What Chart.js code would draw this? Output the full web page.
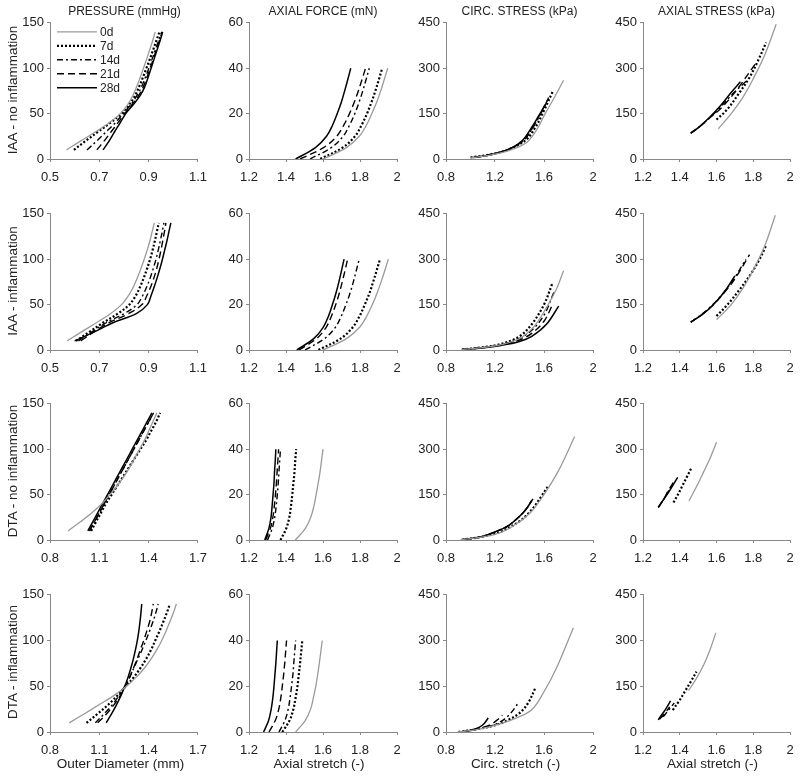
<!DOCTYPE html>
<html>
<head>
<meta charset="utf-8">
<script src="https://cdn.jsdelivr.net/npm/chart.js@4.4.0/dist/chart.umd.min.js"></script>
<style>
  body { margin: 0; width: 800px; height: 776px; background: #fff; position: relative; overflow: hidden;
         font-family: "Liberation Sans", Arial, sans-serif; color: #222; }
  canvas { position: absolute; }
  .lbl { position: absolute; white-space: nowrap; transform: translate(-50%, -50%); }
  .row { transform: translate(-50%, -50%) rotate(-90deg); font-size: 13.5px; }
  .col { font-size: 12px; }
  .xt { font-size: 13.5px; }
</style>
</head>
<body>
<script>
// series labels
const days = ['0d', '7d', '14d', '21d', '28d'];

// pressure levels (mmHg) shared by the diameter curves
const pressureLevels = [10, 20, 30, 40, 50, 60, 70, 80, 90, 100, 110, 120, 130, 140];
// axial force levels (mN) shared by the axial stretch curves
const forceLevels = [0, 5, 10, 15, 20, 25, 30, 35, 40];

// ---- IAA - no inflammation ----
const iaaNoDiameter = [
  [0.567, 0.625, 0.685, 0.740, 0.785, 0.815, 0.836, 0.852, 0.866, 0.879, 0.892, 0.904, 0.916, 0.927],
  [0.597, 0.645, 0.695, 0.745, 0.790, 0.822, 0.845, 0.862, 0.877, 0.891, 0.905, 0.918, 0.931, 0.944],
  [0.650, 0.690, 0.728, 0.765, 0.797, 0.828, 0.853, 0.872, 0.887, 0.901, 0.914, 0.927, 0.940, 0.953],
  [0.690, 0.720, 0.748, 0.776, 0.803, 0.833, 0.860, 0.879, 0.893, 0.906, 0.919, 0.931, 0.943, 0.955],
  [0.715, 0.740, 0.762, 0.785, 0.807, 0.838, 0.866, 0.885, 0.898, 0.910, 0.922, 0.934, 0.946, 0.957]
];
const iaaNoAxialStretch = [
  [1.600, 1.726, 1.796, 1.835, 1.864, 1.890, 1.912, 1.931, 1.950],
  [1.585, 1.706, 1.773, 1.809, 1.838, 1.862, 1.883, 1.902, 1.920],
  [1.530, 1.645, 1.709, 1.744, 1.772, 1.795, 1.815, 1.833, 1.850],
  [1.476, 1.603, 1.674, 1.713, 1.743, 1.769, 1.791, 1.811, 1.830],
  [1.452, 1.559, 1.619, 1.652, 1.677, 1.699, 1.717, 1.734, 1.750]
];
const iaaNoCircStretch = [
  [1.00, 1.15, 1.30, 1.45, 1.53, 1.61, 1.68, 1.76],
  [1.00, 1.15, 1.30, 1.45, 1.53, 1.60, 1.67],
  [1.02, 1.15, 1.30, 1.43, 1.51, 1.58, 1.64],
  [1.03, 1.15, 1.30, 1.43, 1.51, 1.57, 1.63],
  [1.05, 1.15, 1.30, 1.42, 1.50, 1.56, 1.62]
];
const iaaNoCircStress = [
  [4, 12, 26, 52, 90, 150, 200, 260],
  [5, 14, 30, 62, 105, 160, 222],
  [5, 14, 30, 60, 105, 155, 205],
  [5, 13, 30, 60, 105, 150, 195],
  [6, 13, 30, 60, 105, 145, 185]
];
const iaaNoAxStretch = [
  [1.61, 1.68, 1.74, 1.80, 1.86, 1.925],
  [1.60, 1.66, 1.72, 1.78, 1.83, 1.87],
  [1.46, 1.51, 1.56, 1.62, 1.68, 1.77],
  [1.46, 1.51, 1.56, 1.62, 1.70, 1.82],
  [1.46, 1.51, 1.56, 1.62, 1.68, 1.73]
];
const iaaNoAxStress = [
  [100, 150, 200, 265, 340, 445],
  [130, 165, 215, 270, 330, 385],
  [85, 108, 135, 170, 210, 262],
  [85, 108, 134, 165, 220, 322],
  [85, 108, 136, 175, 220, 255]
];

// ---- IAA - inflammation ----
const iaaInfDiameter = [
  [0.570, 0.628, 0.688, 0.745, 0.790, 0.818, 0.839, 0.855, 0.869, 0.882, 0.894, 0.905, 0.914, 0.923],
  [0.605, 0.660, 0.715, 0.775, 0.822, 0.848, 0.866, 0.881, 0.894, 0.906, 0.916, 0.925, 0.933, 0.941],
  [0.615, 0.670, 0.728, 0.800, 0.853, 0.876, 0.893, 0.907, 0.919, 0.930, 0.939, 0.947, 0.955, 0.962],
  [0.625, 0.678, 0.738, 0.818, 0.873, 0.893, 0.909, 0.922, 0.933, 0.942, 0.950, 0.957, 0.964, 0.970],
  [0.600, 0.680, 0.755, 0.850, 0.895, 0.910, 0.923, 0.935, 0.946, 0.956, 0.965, 0.974, 0.982, 0.990]
];
const iaaInfAxialStretch = [
  [1.600, 1.727, 1.798, 1.837, 1.867, 1.892, 1.914, 1.934, 1.953],
  [1.575, 1.695, 1.761, 1.798, 1.826, 1.851, 1.871, 1.890, 1.908],
  [1.503, 1.608, 1.667, 1.699, 1.724, 1.746, 1.764, 1.780, 1.796],
  [1.470, 1.565, 1.617, 1.646, 1.669, 1.688, 1.704, 1.719, 1.733],
  [1.458, 1.550, 1.601, 1.630, 1.651, 1.670, 1.686, 1.700, 1.714]
];
const iaaInfCircStretch = [
  [0.93, 1.10, 1.25, 1.40, 1.52, 1.62, 1.70, 1.76],
  [0.93, 1.10, 1.25, 1.40, 1.50, 1.60, 1.67],
  [0.93, 1.10, 1.25, 1.40, 1.50, 1.60, 1.68],
  [0.93, 1.10, 1.25, 1.40, 1.50, 1.60, 1.67],
  [0.93, 1.10, 1.25, 1.40, 1.50, 1.62, 1.72]
];
const iaaInfCircStress = [
  [2, 8, 18, 38, 78, 140, 200, 262],
  [2, 9, 20, 45, 85, 150, 222],
  [2, 8, 18, 38, 65, 115, 190],
  [2, 8, 17, 33, 55, 95, 150],
  [2, 7, 15, 28, 45, 85, 145]
];
const iaaInfAxStretch = [
  [1.60, 1.68, 1.74, 1.80, 1.86, 1.92],
  [1.60, 1.66, 1.72, 1.78, 1.83, 1.87],
  [1.46, 1.52, 1.58, 1.64, 1.70, 1.76],
  [1.46, 1.52, 1.58, 1.64, 1.70, 1.78],
  [1.46, 1.52, 1.58, 1.64, 1.70]
];
const iaaInfAxStress = [
  [100, 150, 200, 265, 340, 445],
  [112, 150, 195, 245, 295, 345],
  [92, 118, 150, 190, 240, 300],
  [92, 117, 148, 188, 235, 315],
  [92, 116, 148, 190, 245]
];

// ---- DTA - no inflammation ----
const dtaNoDiameter = [
  [0.910, 0.985, 1.055, 1.115, 1.165, 1.210, 1.250, 1.285, 1.315, 1.345, 1.375, 1.400, 1.425, 1.450],
  [1.050, 1.080, 1.110, 1.140, 1.175, 1.210, 1.245, 1.280, 1.315, 1.350, 1.385, 1.415, 1.445, 1.470],
  [1.040, 1.070, 1.100, 1.130, 1.160, 1.190, 1.220, 1.250, 1.280, 1.310, 1.340, 1.370, 1.400, 1.430],
  [1.040, 1.070, 1.100, 1.130, 1.160, 1.190, 1.220, 1.250, 1.280, 1.310, 1.340, 1.370, 1.400, 1.430],
  [1.030, 1.060, 1.090, 1.120, 1.150, 1.180, 1.210, 1.240, 1.270, 1.300, 1.330, 1.360, 1.390, 1.420]
];
const dtaNoAxialStretch = [
  [1.450, 1.504, 1.534, 1.551, 1.563, 1.574, 1.584, 1.592, 1.600],
  [1.370, 1.401, 1.418, 1.427, 1.434, 1.440, 1.446, 1.450, 1.455],
  [1.300, 1.325, 1.339, 1.347, 1.353, 1.358, 1.362, 1.366, 1.370],
  [1.290, 1.315, 1.329, 1.337, 1.343, 1.348, 1.352, 1.356, 1.360],
  [1.285, 1.307, 1.319, 1.325, 1.330, 1.335, 1.338, 1.342, 1.345]
];
const dtaNoCircStretch = [
  [0.92, 1.10, 1.25, 1.40, 1.50, 1.60, 1.72, 1.85],
  [0.93, 1.10, 1.25, 1.40, 1.50, 1.58, 1.63],
  [0.94, 1.10, 1.20, 1.30, 1.40, 1.46, 1.50],
  [0.94, 1.10, 1.20, 1.30, 1.40, 1.46, 1.50],
  [0.94, 1.10, 1.20, 1.30, 1.40, 1.46, 1.51]
];
const dtaNoCircStress = [
  [1, 10, 25, 60, 95, 150, 230, 342],
  [1, 11, 28, 62, 100, 145, 176],
  [1, 12, 27, 45, 78, 105, 132],
  [1, 12, 27, 45, 78, 105, 132],
  [1, 12, 27, 45, 78, 105, 136]
];
const dtaNoAxStretch = [
  [1.45, 1.49, 1.53, 1.565, 1.60],
  [1.366, 1.39, 1.415, 1.44, 1.461],
  [1.283, 1.31, 1.335, 1.36],
  [1.283, 1.31, 1.335, 1.37],
  [1.283, 1.31, 1.34, 1.365, 1.389]
];
const dtaNoAxStress = [
  [129, 175, 225, 270, 323],
  [124, 150, 180, 210, 235],
  [108, 132, 158, 185],
  [108, 132, 160, 195],
  [108, 132, 158, 183, 207]
];

// ---- DTA - inflammation ----
const dtaInfDiameter = [
  [0.917, 1.010, 1.100, 1.190, 1.265, 1.325, 1.375, 1.415, 1.450, 1.480, 1.505, 1.528, 1.550, 1.569],
  [1.022, 1.090, 1.155, 1.210, 1.260, 1.310, 1.350, 1.385, 1.415, 1.440, 1.465, 1.488, 1.510, 1.529],
  [1.076, 1.130, 1.180, 1.220, 1.255, 1.285, 1.310, 1.335, 1.360, 1.383, 1.405, 1.425, 1.443, 1.458],
  [1.090, 1.145, 1.190, 1.228, 1.260, 1.285, 1.308, 1.330, 1.350, 1.370, 1.388, 1.405, 1.418, 1.428],
  [1.142, 1.175, 1.205, 1.232, 1.255, 1.275, 1.292, 1.307, 1.320, 1.331, 1.340, 1.347, 1.353, 1.358]
];
const dtaInfAxialStretch = [
  [1.452, 1.504, 1.533, 1.548, 1.561, 1.571, 1.580, 1.588, 1.596],
  [1.380, 1.419, 1.440, 1.452, 1.462, 1.469, 1.476, 1.482, 1.488],
  [1.362, 1.394, 1.412, 1.422, 1.430, 1.437, 1.442, 1.447, 1.452],
  [1.308, 1.342, 1.361, 1.372, 1.380, 1.387, 1.393, 1.398, 1.403],
  [1.279, 1.306, 1.320, 1.329, 1.335, 1.340, 1.345, 1.349, 1.353]
];
const dtaInfCircStretch = [
  [0.894, 1.05, 1.20, 1.35, 1.50, 1.60, 1.70, 1.84],
  [0.90, 1.05, 1.20, 1.30, 1.40, 1.47, 1.53],
  [0.91, 1.05, 1.15, 1.25, 1.32, 1.39],
  [0.93, 1.03, 1.10, 1.17, 1.22, 1.26],
  [0.95, 1.02, 1.07, 1.11, 1.145]
];
const dtaInfCircStress = [
  [0, 8, 22, 42, 73, 132, 208, 342],
  [0, 9, 22, 38, 62, 95, 145],
  [0, 9, 18, 35, 58, 95],
  [0, 8, 15, 26, 40, 55],
  [0, 8, 15, 27, 46]
];
const dtaInfAxStretch = [
  [1.448, 1.49, 1.53, 1.565, 1.596],
  [1.362, 1.40, 1.43, 1.46, 1.491],
  [1.31, 1.33, 1.35, 1.37],
  [1.29, 1.31, 1.33, 1.345],
  [1.283, 1.30, 1.32, 1.35]
];
const dtaInfAxStress = [
  [136, 175, 220, 270, 325],
  [72, 105, 135, 165, 198],
  [50, 65, 80, 95],
  [42, 55, 70, 82],
  [40, 55, 72, 102]
];

// layout of the 4x4 grid (plot-area edges in page pixels)
const colLeft = [50, 249, 446, 643];
const colRight = [199, 397, 593, 790];
const rowTop = [20, 211, 401, 592];
const rowBottom = [159, 350, 540, 732];
const PAD_TOP = 8, PAD_RIGHT = 16, Y_W = 50, X_H = 30;

const lineStyles = [
  { borderColor: '#9a9a9a', borderWidth: 1.3 },
  { borderColor: '#000', borderWidth: 2.2, borderDash: [2, 2] },
  { borderColor: '#000', borderWidth: 1.4, borderDash: [6, 3, 2, 3] },
  { borderColor: '#000', borderWidth: 1.4, borderDash: [7, 4] },
  { borderColor: '#000', borderWidth: 1.5 }
];

const fmt = v => String(parseFloat(v.toFixed(2)));

// legend drawn inside the first panel
const inlineLegend = {
  id: 'inlineLegend',
  afterDatasetsDraw(chart) {
    const { ctx, chartArea } = chart;
    ctx.save();
    chart.data.datasets.forEach((ds, i) => {
      const y = chartArea.top + 9 + i * 14;
      ctx.strokeStyle = ds.borderColor;
      ctx.lineWidth = ds.borderWidth;
      ctx.setLineDash(ds.borderDash || []);
      ctx.beginPath();
      ctx.moveTo(chartArea.left + 7, y);
      ctx.lineTo(chartArea.left + 47, y);
      ctx.stroke();
      ctx.setLineDash([]);
      ctx.fillStyle = '#222';
      ctx.font = '12px "Liberation Sans", Arial, sans-serif';
      ctx.textBaseline = 'middle';
      ctx.fillText(ds.label, chartArea.left + 50, y + 1);
    });
    ctx.restore();
  }
};

function panel(row, col, xs, ys, xr, yr, withLegend) {
  const w = colRight[col] - colLeft[col] + Y_W + PAD_RIGHT;
  const h = rowBottom[row] - rowTop[row] + PAD_TOP + X_H;
  const c = document.createElement('canvas');
  c.width = w; c.height = h;
  c.style.left = (colLeft[col] - Y_W) + 'px';
  c.style.top = (rowTop[row] - PAD_TOP) + 'px';
  document.body.appendChild(c);

  const datasets = days.map((d, i) => ({
    label: d,
    data: xs[i].map((x, j) => ({ x: x, y: Array.isArray(ys[0]) ? ys[i][j] : ys[j] })),
    showLine: true,
    pointRadius: 0,
    tension: 0.35,
    fill: false,
    ...lineStyles[i]
  }));

  const axis = (r, isY) => ({
    type: 'linear',
    min: r[0], max: r[1],
    ticks: {
      stepSize: r[2], color: '#222', padding: isY ? 3 : 8,
      font: { family: '"Liberation Sans", Arial, sans-serif', size: 13 },
      callback: v => fmt(v), maxRotation: 0, autoSkip: false
    },
    grid: { display: true, drawOnChartArea: false, tickLength: 3, color: '#888' },
    border: { display: true, color: '#888', width: 1 },
    afterFit: s => { if (isY) s.width = Y_W; else s.height = X_H; }
  });

  new Chart(c, {
    type: 'scatter',
    data: { datasets },
    options: {
      responsive: false,
      animation: false,
      layout: { padding: { top: PAD_TOP, right: PAD_RIGHT, left: 0, bottom: 0 } },
      plugins: { legend: { display: false }, tooltip: { enabled: false } },
      scales: { x: axis(xr, false), y: axis(yr, true) }
    },
    plugins: withLegend ? [inlineLegend] : []
  });
}

function label(text, x, y, cls) {
  const d = document.createElement('div');
  d.className = 'lbl ' + cls;
  d.style.left = x + 'px';
  d.style.top = y + 'px';
  d.textContent = text;
  document.body.appendChild(d);
}

const pRangeIAA = [0.5, 1.1, 0.2], pRangeDTA = [0.8, 1.7, 0.3];
const fRange = [1.2, 2, 0.2], cRange = [0.8, 2, 0.4], aRange = [1.2, 2, 0.2];
const pY = [0, 150, 50], fY = [0, 60, 20], sY = [0, 450, 150];

panel(0, 0, iaaNoDiameter, pressureLevels, pRangeIAA, pY, true);
panel(0, 1, iaaNoAxialStretch, forceLevels, fRange, fY);
panel(0, 2, iaaNoCircStretch, iaaNoCircStress, cRange, sY);
panel(0, 3, iaaNoAxStretch, iaaNoAxStress, aRange, sY);

panel(1, 0, iaaInfDiameter, pressureLevels, pRangeIAA, pY);
panel(1, 1, iaaInfAxialStretch, forceLevels, fRange, fY);
panel(1, 2, iaaInfCircStretch, iaaInfCircStress, cRange, sY);
panel(1, 3, iaaInfAxStretch, iaaInfAxStress, aRange, sY);

panel(2, 0, dtaNoDiameter, pressureLevels, pRangeDTA, pY);
panel(2, 1, dtaNoAxialStretch, forceLevels, fRange, fY);
panel(2, 2, dtaNoCircStretch, dtaNoCircStress, cRange, sY);
panel(2, 3, dtaNoAxStretch, dtaNoAxStress, aRange, sY);

panel(3, 0, dtaInfDiameter, pressureLevels, pRangeDTA, pY);
panel(3, 1, dtaInfAxialStretch, forceLevels, fRange, fY);
panel(3, 2, dtaInfCircStretch, dtaInfCircStress, cRange, sY);
panel(3, 3, dtaInfAxStretch, dtaInfAxStress, aRange, sY);

// column titles, row titles, x-axis titles
const colTitles = ['PRESSURE (mmHg)', 'AXIAL FORCE (mN)', 'CIRC. STRESS (kPa)', 'AXIAL STRESS (kPa)'];
const rowTitles = ['IAA - no inflammation', 'IAA - inflammation', 'DTA - no inflammation', 'DTA - inflammation'];
const xTitles = ['Outer Diameter (mm)', 'Axial stretch (-)', 'Circ. stretch (-)', 'Axial stretch (-)'];
colTitles.forEach((t, i) => label(t, (colLeft[i] + colRight[i]) / 2, 11, 'col'));
rowTitles.forEach((t, i) => label(t, 12, (rowTop[i] + rowBottom[i]) / 2, 'row'));
xTitles.forEach((t, i) => label(t, (colLeft[i] + colRight[i]) / 2 - 4, 763, 'xt'));
</script>
</body>
</html>
